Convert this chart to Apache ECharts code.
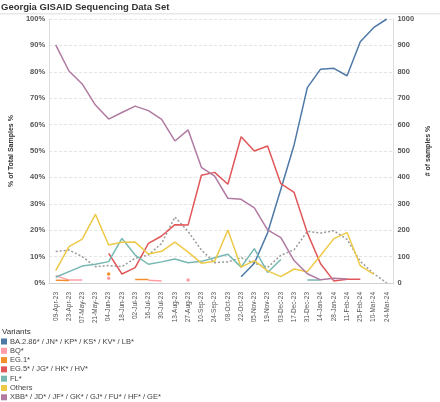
<!DOCTYPE html>
<html><head><meta charset="utf-8">
<script src="https://cdn.jsdelivr.net/npm/echarts@6/dist/echarts.min.js"></script>
<style>html,body{margin:0;padding:0;background:#fff}#c{width:440px;height:402px}</style>
</head><body><div id="c"></div>
<script>
const categories = ['09-Apr-23','23-Apr-23','07-May-23','21-May-23','04-Jun-23','18-Jun-23','02-Jul-23','16-Jul-23','30-Jul-23','13-Aug-23','27-Aug-23','10-Sep-23','24-Sep-23','08-Oct-23','22-Oct-23','05-Nov-23','19-Nov-23','03-Dec-23','17-Dec-23','31-Dec-23','14-Jan-24','28-Jan-24','11-Feb-24','25-Feb-24','10-Mar-24','24-Mar-24'];
const leftTicks = [0,10,20,30,40,50,60,70,80,90,100];
const rightTicks = [0,100,200,300,400,500,600,700,800,900,1000];
const N = null;
const ba286 = [N,N,N,N,N,N,N,N,N,N,N,N,N,N,2.4,7.5,19,35.5,52.3,74,81,81.3,78.5,91.4,96.7,100];
const bq    = [2.8,1.1,1.1,N,1.8,N,N,1.0,0.8,N,1.1,N,N,N,N,N,N,N,N,N,N,N,N,N,N,N];
const eg1   = [1.0,0.9,N,N,3.4,N,1.3,1.3,N,N,N,N,N,N,N,N,N,N,N,N,N,N,N,N,N,N];
const eg5   = [N,N,N,N,11.2,3.4,5.8,15,17.8,22.1,22,40.8,41.9,37.4,55.4,50,51.9,37.6,34.3,19,7.3,0.8,1.4,1.4,N,N];
const fl    = [2.2,4.3,6.4,7.1,8.1,16.9,10.6,7.1,8.0,9.1,7.7,8.2,9.6,10.9,6.0,13.0,4.0,8.9,N,1.1,1.1,N,N,N,N,N];
const others= [4.7,13.8,16.6,26,14.4,15.4,15.5,11,12,15.5,11.7,7.5,8.2,20.1,6,8.5,4.6,2.4,5.3,4.3,10.4,16.8,19.1,6.5,3.4,N];
const xbb   = [90.2,80.3,75.4,67.4,62.1,64.6,67,65.3,62,53.8,58,43.8,40.5,32.1,31.7,28.5,20.1,17.2,8.5,3.5,1.2,1.8,1.5,N,N,N];
const trend = [11.9,12.5,10,6.2,6.6,6.2,9.4,10.6,15,25,19.5,12.5,7.7,8,9.6,7.5,5.9,10.5,12.6,19.6,18.9,19.8,16.5,8.2,3.6,0];

const names = ['BA.2.86* / JN* / KP* / KS* / KV* / LB*','BQ*','EG.1*','EG.5* / JG* / HK* / HV*','FL*','Others','XBB* / JD* / JF* / GK* / GJ* / FU* / HF* / GE*'];
const colors = ['#4e79a7','#ff9da7','#f28e2b','#e15759','#76b7b2','#edc948','#b07aa1'];
const datas = [ba286,bq,eg1,eg5,fl,others,xbb];

function isolated(arr,i){return arr[i]!=null && (i===0||arr[i-1]==null) && (i===arr.length-1||arr[i+1]==null);}

const series = [];
series.push({name:'trend',type:'line',data:trend,showSymbol:false,silent:true,
  lineStyle:{color:'#9a9a9a',width:1.5,type:[2,2]},z:1});
datas.forEach((d,k)=>{
  series.push({name:names[k],type:'line',data:d,connectNulls:false,
    symbol:'circle',showSymbol:true,showAllSymbol:true,
    symbolSize:(v,p)=>isolated(d,p.dataIndex)?3.5:0,
    itemStyle:{color:colors[k]},
    lineStyle:{color:colors[k],width:1.5},z:2});
});

const chart = echarts.init(document.getElementById('c'),null,{renderer:'canvas'});
chart.setOption({
  animation:false,
  textStyle:{fontFamily:'Liberation Sans, Arial, sans-serif'},
  graphic:[
    {type:'text',left:1,top:2,style:{text:'Georgia GISAID Sequencing Data Set',font:'bold 9.5px Liberation Sans, Arial, sans-serif',fill:'#333'}},
    {type:'rect',left:0,top:13,shape:{width:440,height:1.5},style:{fill:'#e8e8e8'}},
    {type:'text',left:2,top:328,style:{text:'Variants',font:'8px Liberation Sans, Arial, sans-serif',fill:'#333'}}
  ],
  grid:{left:36,right:36,top:19,bottom:119,containLabel:false},
  legend:{data:names,orient:'vertical',left:1,top:337.5,itemWidth:6,itemHeight:6,itemGap:1.3,
    icon:'rect',selectedMode:false,padding:0,
    textStyle:{fontSize:7.5,color:'#444',lineHeight:8,padding:[0,0,0,-2]}},
  xAxis:{type:'category',data:categories,boundaryGap:true,offset:4,
    axisLine:{show:true,lineStyle:{color:'#d0d0d0'}},axisTick:{show:false},
    axisLabel:{rotate:90,interval:0,fontSize:6.5,color:'#555',margin:5}},
  yAxis:[
    {type:'value',min:0,max:100,interval:10,position:'left',
     axisLabel:{formatter:v=>leftTicks.includes(v)?v+'%':'',fontSize:7.5,color:'#555',fontWeight:'bold',margin:4},
     axisLine:{show:true,lineStyle:{color:'#dcdcdc'}},axisTick:{show:false},
     splitLine:{show:true,lineStyle:{color:'#e4e4e4',type:[3,2]}},
     name:'% of Total Samples %',nameLocation:'middle',nameRotate:90,nameGap:27,
     nameTextStyle:{fontSize:7,fontWeight:'bold',color:'#333'}},
    {type:'value',min:0,max:1000,interval:100,position:'right',
     axisLabel:{formatter:v=>rightTicks.includes(v)?String(v):'',fontSize:7.5,color:'#555',fontWeight:'bold',margin:4},
     axisLine:{show:true,lineStyle:{color:'#dcdcdc'}},axisTick:{show:false},
     splitLine:{show:false},
     name:'# of samples %',nameLocation:'middle',nameRotate:90,nameGap:30,
     nameTextStyle:{fontSize:7,fontWeight:'bold',color:'#333'}}
  ],
  series:series
});
</script></body></html>
